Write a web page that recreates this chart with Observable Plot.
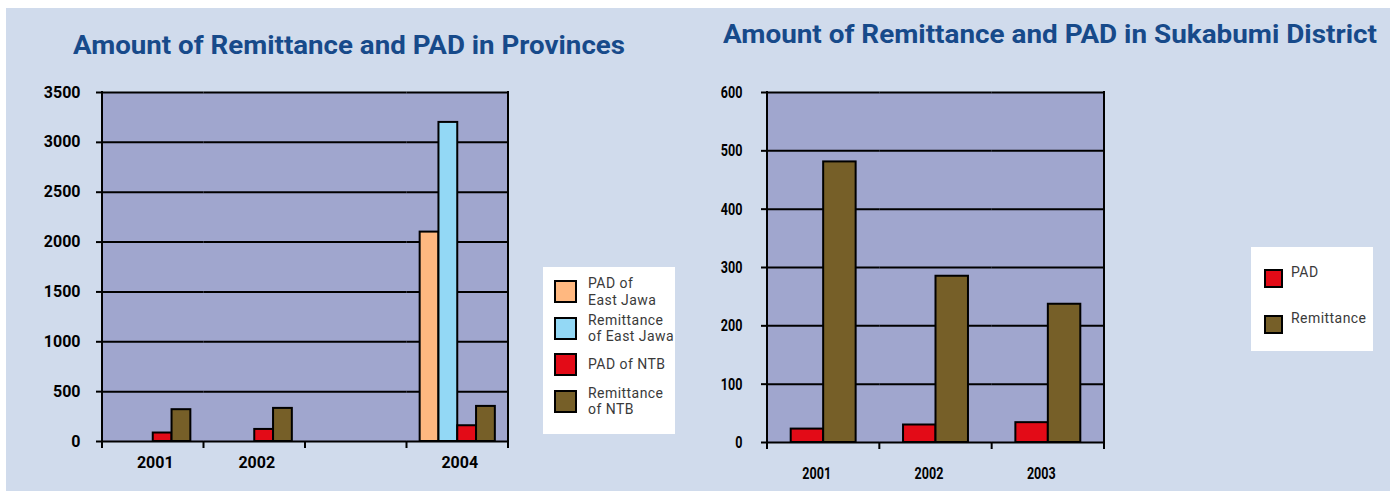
<!DOCTYPE html>
<html><head><meta charset="utf-8">
<script src="https://cdn.jsdelivr.net/npm/d3@7"></script>
<script src="https://cdn.jsdelivr.net/npm/@observablehq/plot@0.6"></script>
<style>
html,body{margin:0;padding:0;background:#fff;}
#root{position:relative;width:1390px;height:491px;overflow:hidden;background:#fff;}
#bg{position:absolute;left:6px;top:8px;right:0;bottom:0;background:#D0DBEC;}
.title{position:absolute;font-family:Roboto,sans-serif;font-weight:bold;color:#174A8A;white-space:nowrap;line-height:1;font-size:25px;transform-origin:0 0;}
.chart{position:absolute;top:0;}
.legend{position:absolute;background:#fff;font-family:Roboto,sans-serif;color:#3a3a3a;box-sizing:border-box;}
.item{position:absolute;display:flex;align-items:center;}
.sw{box-sizing:border-box;border:2px solid #000;flex:none;}
.lab{font-size:14px;line-height:16.5px;white-space:nowrap;letter-spacing:0.45px;}
</style></head>
<body>
<div id="root">
  <div id="bg"></div>
  <div class="title" id="t1" style="left:73px;top:33px;">Amount of Remittance and PAD in Provinces</div>
  <div class="title" id="t2" style="left:723px;top:22px;">Amount of Remittance and PAD in Sukabumi District</div>
  <div class="chart" id="c1" style="left:0px;"></div>
  <div class="chart" id="c2" style="left:690px;"></div>
  <div class="legend" id="l1" style="left:543px;top:267px;width:132px;height:167px;"></div>
  <div class="legend" id="l2" style="left:1251px;top:247px;width:122px;height:104px;"></div>
</div>
<script>
// ---- Data: provinces chart ----
const provYears = ["2001", "2002", "2003", "2004"];
const provYearLabels = ["2001", "2002", "", "2004"];
const provSeries = ["PAD of East Jawa", "Remittance of East Jawa", "PAD of NTB", "Remittance of NTB"];
const provLegendLines = [["PAD of", "East Jawa"], ["Remittance", "of East Jawa"], ["PAD of NTB"], ["Remittance", "of NTB"]];
const provPadEastJawa = [null, null, null, 2100];
const provRemitEastJawa = [null, null, null, 3200];
const provPadNTB = [85, 121, null, 158];
const provRemitNTB = [319, 332, null, 352];
const provYTicks = [0, 500, 1000, 1500, 2000, 2500, 3000, 3500];
const provColors = ["#FFB880", "#93D8F5", "#E30B17", "#765F28"];

// ---- Data: Sukabumi chart ----
const sukYears = ["2001", "2002", "2003"];
const sukYearLabels = ["2001", "2002", "2003"];
const sukSeries = ["PAD", "Remittance"];
const sukPad = [23, 30, 34];
const sukRemit = [481, 285, 237];
const sukYTicks = [0, 100, 200, 300, 400, 500, 600];
const sukColors = ["#E30B17", "#765F28"];

const plotBg = "#A0A6CE";

function toRows(years, series, valueArrays) {
  const rows = [];
  series.forEach((s, si) => {
    years.forEach((y, yi) => {
      const v = valueArrays[si][yi];
      if (v != null) rows.push({year: y, series: s, value: v});
    });
  });
  return rows;
}

function borderMark() {
  return Plot.frame({
    facet: "super",
    stroke: "none",
    render(index, scales, values, dims) {
      const g = d3.create("svg:g").attr("stroke", "#000").attr("stroke-width", 2).attr("fill", "none");
      const fx = scales.fx;
      const yTop = dims.marginTop, y0 = dims.height - dims.marginBottom;
      const dom = fx.domain(), bw = fx.bandwidth();
      const edges = [];
      dom.forEach(d => { edges.push(fx(d)); });
      edges.push(fx(dom[dom.length - 1]) + bw);
      edges.forEach(x => g.append("line").attr("x1", x).attr("x2", x).attr("y1", y0).attr("y2", y0 + 7));
      const xl = edges[0], xr = edges[edges.length - 1];
      g.append("line").attr("x1", xl).attr("x2", xl).attr("y1", yTop - 1).attr("y2", y0 + 7);
      g.append("line").attr("x1", xr).attr("x2", xr).attr("y1", yTop - 1).attr("y2", y0 + 7);
      return g.node();
    }
  });
}

function makeChart(o) {
  const gridRows = o.years.flatMap(yr => o.yTicks.map(t => ({year: yr, tick: t})));
  return Plot.plot({
    width: o.width, height: o.height,
    marginLeft: o.ml, marginRight: o.mr, marginTop: o.mt, marginBottom: o.mb,
    style: {fontFamily: "Roboto, sans-serif", fontWeight: "bold", fontSize: o.fs + "px", color: "#000", background: "transparent", overflow: "visible"},
    fx: {domain: o.years, padding: 0, round: false, label: null, axis: null},
    x: {domain: o.series, paddingInner: 0, paddingOuter: o.po, round: false, axis: null},
    y: {domain: [0, o.yMax], axis: null},
    color: {domain: o.series, range: o.colors},
    marks: [
      Plot.frame({facet: "super", fill: plotBg, stroke: null}),
      Plot.gridY(gridRows, {fx: "year", y: "tick", stroke: "#000", strokeOpacity: 1, strokeWidth: 2}),
      Plot.axisY(o.yTicks, {tickSize: 6, tickPadding: o.ytp, strokeWidth: 2, label: null, tickFormat: d => String(d)}),
      Plot.barY(o.rows, {fx: "year", x: "series", y: "value", fill: "series", stroke: "#000", strokeWidth: 2}),
      Plot.axisFx({anchor: "bottom", tickSize: 0, tickPadding: o.xtp, dx: o.xdx, label: null, tickFormat: d => o.labels[o.years.indexOf(d)]}),
      borderMark()
    ]
  });
}

const c1 = makeChart({
  width: 540, height: 491, ml: 102, mr: 32, mt: 92, mb: 50, fs: 16, po: 0.7, ytp: 16, xtp: 15, xdx: 2,
  years: provYears, labels: provYearLabels, series: provSeries, colors: provColors,
  rows: toRows(provYears, provSeries, [provPadEastJawa, provRemitEastJawa, provPadNTB, provRemitNTB]),
  yMax: 3500, yTicks: provYTicks
});
document.getElementById("c1").appendChild(c1);

const c2 = makeChart({
  width: 700, height: 491, ml: 77, mr: 286, mt: 92, mb: 49, fs: 17, po: 0.73, ytp: 19, xtp: 24, xdx: -7,
  years: sukYears, labels: sukYearLabels, series: sukSeries, colors: sukColors,
  rows: toRows(sukYears, sukSeries, [sukPad, sukRemit]),
  yMax: 600, yTicks: sukYTicks
});
document.getElementById("c2").appendChild(c2);
// condensed tick text in the right chart
c2.querySelectorAll("text").forEach(t => {
  const tr = t.getAttribute("transform");
  if (tr) t.setAttribute("transform", tr + " scale(0.74,1)");
});

// ---- legends ----
function buildLegend(el, lines, colors, o) {
  lines.forEach((ls, i) => {
    const it = document.createElement("div");
    it.className = "item";
    it.style.left = o.left + "px";
    it.style.top = (o.top + i * o.step) + "px";
    it.style.height = o.h + "px";
    it.style.alignItems = o.align;
    const sw = document.createElement("div");
    sw.className = "sw";
    sw.style.width = o.sw + "px"; sw.style.height = o.sw + "px";
    sw.style.background = colors[i];
    if (o.swTop != null) sw.style.marginTop = o.swTop + "px";
    const lab = document.createElement("div");
    lab.className = "lab";
    lab.style.marginLeft = o.gap + "px";
    lab.innerHTML = ls.join("<br>");
    it.appendChild(sw); it.appendChild(lab);
    el.appendChild(it);
  });
}
buildLegend(document.getElementById("l1"), provLegendLines, provColors, {left: 11, top: 6, step: 36.5, h: 37, sw: 23, gap: 11, align: "center"});
buildLegend(document.getElementById("l2"), sukSeries.map(s => [s]), sukColors, {left: 13, top: 17, step: 45.7, h: 24, sw: 19, gap: 8, align: "flex-start", swTop: 5});

// ---- title widths ----
[["t1", 552], ["t2", 654]].forEach(([id, w]) => {
  const el = document.getElementById(id);
  const cw = el.getBoundingClientRect().width;
  if (cw > 0) el.style.transform = "scaleX(" + (w / cw) + ")";
});
</script>
</body></html>
